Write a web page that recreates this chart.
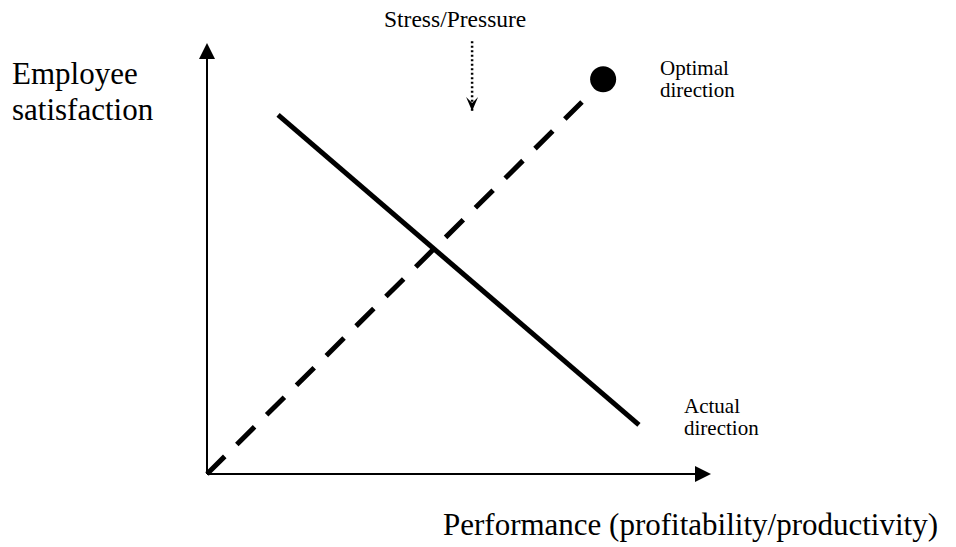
<!DOCTYPE html>
<html>
  <head>
    <meta charset="utf-8" />
    <title>Employee satisfaction vs performance</title>
    <style>
      body {
        margin: 0;
        background: #fff;
      }
      text {
        font-family: "Times New Roman", "Liberation Serif", serif;
        fill: #000;
      }
    </style>
  </head>
  <body>
    <div id="chart"></div>

    <script src="https://d3js.org/d3.v7.min.js"></script>
    <script>
      // data, in axis units (0..100 on both axes)
      const actualDirection = [
        { x: 14.1, y: 83.3 },
        { x: 85.7, y: 11.4 },
      ];
      const optimalDirection = [
        { x: 0, y: 0 },
        { x: 74.4, y: 86.3 },
      ];
      const optimalPoint = [{ x: 78.6, y: 91.6 }];
      const stressArrow = [
        { x: 52.6, y: 100.4 },
        { x: 52.6, y: 84.2 },
      ];
      const yLabelLines = ["Employee", "satisfaction"];
      const xLabel = "Performance (profitability/productivity)";
      const optimalLabel = ["Optimal", "direction"];
      const actualLabel = ["Actual", "direction"];
      const stressLabel = "Stress/Pressure";

      const width = 956,
        height = 547;
      const margin = { top: 43, right: 245, bottom: 73, left: 207 };

      const svg = d3
        .select("#chart")
        .append("svg")
        .attr("width", width)
        .attr("height", height);

      const x = d3
        .scaleLinear()
        .domain([0, 100])
        .range([margin.left, width - margin.right]);
      const y = d3
        .scaleLinear()
        .domain([0, 100])
        .range([height - margin.bottom, margin.top]);

      const line = d3
        .line()
        .x((d) => x(d.x))
        .y((d) => y(d.y));

      // axes with filled arrow heads
      const head = 16;
      svg
        .append("line")
        .attr("x1", x(0))
        .attr("y1", y(0))
        .attr("x2", x(0))
        .attr("y2", y(100) + head)
        .attr("stroke", "#000")
        .attr("stroke-width", 2);
      svg
        .append("path")
        .attr(
          "d",
          `M${x(0)},${y(100)} L${x(0) - 8},${y(100) + head} L${x(0) + 8},${
            y(100) + head
          } Z`
        )
        .attr("fill", "#000");

      svg
        .append("line")
        .attr("x1", x(0))
        .attr("y1", y(0))
        .attr("x2", x(100) - head)
        .attr("y2", y(0))
        .attr("stroke", "#000")
        .attr("stroke-width", 2);
      svg
        .append("path")
        .attr(
          "d",
          `M${x(100)},${y(0)} L${x(100) - head},${y(0) - 8} L${
            x(100) - head
          },${y(0) + 8} Z`
        )
        .attr("fill", "#000");

      // optimal direction (dashed)
      svg
        .append("path")
        .datum(optimalDirection)
        .attr("d", line)
        .attr("fill", "none")
        .attr("stroke", "#000")
        .attr("stroke-width", 5)
        .attr("stroke-dasharray", "25,17");

      svg
        .selectAll("circle.optimal")
        .data(optimalPoint)
        .enter()
        .append("circle")
        .attr("class", "optimal")
        .attr("cx", (d) => x(d.x))
        .attr("cy", (d) => y(d.y))
        .attr("r", 13)
        .attr("fill", "#000");

      // actual direction (solid)
      svg
        .append("path")
        .datum(actualDirection)
        .attr("d", line)
        .attr("fill", "none")
        .attr("stroke", "#000")
        .attr("stroke-width", 5);

      // stress / pressure dotted arrow
      svg
        .append("path")
        .datum(stressArrow)
        .attr("d", line)
        .attr("fill", "none")
        .attr("stroke", "#000")
        .attr("stroke-width", 2.5)
        .attr("stroke-dasharray", "2,2.5");
      const tip = stressArrow[1];
      const tx = x(tip.x),
        ty = y(tip.y);
      svg
        .append("path")
        .attr(
          "d",
          `M${tx},${ty} L${tx - 6},${ty - 14} L${tx},${ty - 8} L${tx + 6},${
            ty - 14
          } Z`
        )
        .attr("fill", "#000");

      // labels
      svg
        .append("text")
        .attr("x", 384)
        .attr("y", 27)
        .style("font-size", "23.5px")
        .text(stressLabel);

      const yl = svg
        .append("text")
        .attr("x", 12)
        .attr("y", 84)
        .style("font-size", "31px");
      yl.selectAll("tspan")
        .data(yLabelLines)
        .enter()
        .append("tspan")
        .attr("x", 12)
        .attr("dy", (d, i) => (i ? 36 : 0))
        .text((d) => d);

      svg
        .append("text")
        .attr("x", 443)
        .attr("y", 535)
        .style("font-size", "31px")
        .text(xLabel);

      const ol = svg
        .append("text")
        .attr("y", 75)
        .style("font-size", "21px");
      ol.selectAll("tspan")
        .data(optimalLabel)
        .enter()
        .append("tspan")
        .attr("x", 660)
        .attr("dy", (d, i) => (i ? 22 : 0))
        .text((d) => d);

      const al = svg
        .append("text")
        .attr("y", 413)
        .style("font-size", "21px");
      al.selectAll("tspan")
        .data(actualLabel)
        .enter()
        .append("tspan")
        .attr("x", 684)
        .attr("dy", (d, i) => (i ? 22 : 0))
        .text((d) => d);
    </script>
  </body>
</html>
